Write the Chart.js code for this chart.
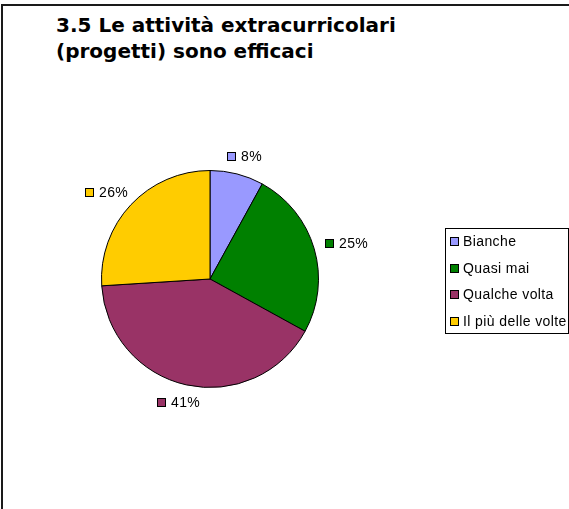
<!DOCTYPE html>
<html>
<head>
<meta charset="utf-8">
<script src="https://cdn.jsdelivr.net/npm/chart.js@4"></script>
<style>
  html, body { margin: 0; padding: 0; background: #fff; }
  #wrap { position: relative; width: 569px; height: 509px; overflow: hidden; }
  #frame { position: absolute; left: 1px; top: 4px; width: 600px; height: 600px;
           border-left: 2px solid #1a1a1a; border-top: 2px solid #1a1a1a; }
  #title { position: absolute; left: 56px; top: 11.5px; margin: 0;
           font-family: "DejaVu Sans", sans-serif;
           font-weight: bold; font-size: 20px; line-height: 26.5px; color: #000; }
  canvas { position: absolute; left: 0; top: 0; }
</style>
</head>
<body>
<div id="wrap">
  <div id="frame"></div>
  <h1 id="title">3.5 Le attività extracurricolari<br>(progetti) sono efficaci</h1>
  <canvas id="c" width="569" height="509"></canvas>
</div>
<script>
const categories = ["Bianche", "Quasi mai", "Qualche volta", "Il più delle volte"];
const percentValues = [8, 25, 41, 26];
const sliceColors = ["#9999FF", "#008000", "#993366", "#FFCC00"];

const labelFont = '14px "Liberation Sans", Arial, sans-serif';
const labelSpacing = '0.4px';

const pieLabels = {
  id: 'pieLabels',
  afterDatasetsDraw(chart) {
    const ctx = chart.ctx;
    const meta = chart.getDatasetMeta(0);
    ctx.save();
    ctx.font = labelFont;
    if ('letterSpacing' in ctx) ctx.letterSpacing = labelSpacing;
    ctx.textBaseline = 'middle';
    meta.data.forEach((arc, i) => {
      const p = arc.getProps(['x', 'y', 'startAngle', 'endAngle', 'outerRadius'], true);
      const mid = (p.startAngle + p.endAngle) / 2;
      const dx = Math.cos(mid), dy = Math.sin(mid);
      const txt = chart.data.datasets[0].data[i] + '%';
      const tw = ctx.measureText(txt).width;
      const w = 9 + 5 + tw, h = 12;
      const ax = p.x + (p.outerRadius + 12) * dx;
      const ay = p.y + (p.outerRadius + 12) * dy;
      const cx = ax + dx * w / 2, cy = ay + dy * h / 2;
      const left = Math.round(cx - w / 2);
      const sy = Math.round(cy - 4.5);
      ctx.fillStyle = sliceColors[i];
      ctx.fillRect(left + 0.5, sy + 0.5, 8, 8);
      ctx.strokeStyle = '#000';
      ctx.lineWidth = 1;
      ctx.strokeRect(left + 0.5, sy + 0.5, 8, 8);
      ctx.fillStyle = '#000';
      ctx.textAlign = 'left';
      ctx.fillText(txt, left + 14, cy + 0.5);
    });
    ctx.restore();
  }
};

const boxLegend = {
  id: 'boxLegend',
  afterDraw(chart) {
    const ctx = chart.ctx;
    const bx = 445, by = 228, bw = 123, bh = 105;
    ctx.save();
    ctx.strokeStyle = '#000';
    ctx.lineWidth = 1;
    ctx.strokeRect(bx + 0.5, by + 0.5, bw, bh);
    ctx.font = labelFont;
    if ('letterSpacing' in ctx) ctx.letterSpacing = labelSpacing;
    ctx.textBaseline = 'middle';
    ctx.textAlign = 'left';
    chart.data.labels.forEach((lab, i) => {
      const cy = by + 13.5 + i * 26.7;
      const sy = Math.round(cy - 4.5);
      ctx.fillStyle = sliceColors[i];
      ctx.fillRect(bx + 5.5, sy + 0.5, 8, 8);
      ctx.strokeStyle = '#000';
      ctx.strokeRect(bx + 5.5, sy + 0.5, 8, 8);
      ctx.fillStyle = '#000';
      ctx.fillText(lab, bx + 18, cy + 0.5);
    });
    ctx.restore();
  }
};

new Chart(document.getElementById('c'), {
  type: 'pie',
  data: {
    labels: categories,
    datasets: [{
      data: percentValues,
      backgroundColor: sliceColors,
      borderColor: '#000',
      borderWidth: 1
    }]
  },
  options: {
    responsive: false,
    animation: false,
    layout: { padding: { left: 101, right: 250, top: 170, bottom: 121 } },
    plugins: {
      legend: { display: false },
      tooltip: { enabled: false },
      title: { display: false }
    }
  },
  plugins: [pieLabels, boxLegend]
});
</script>
</body>
</html>
